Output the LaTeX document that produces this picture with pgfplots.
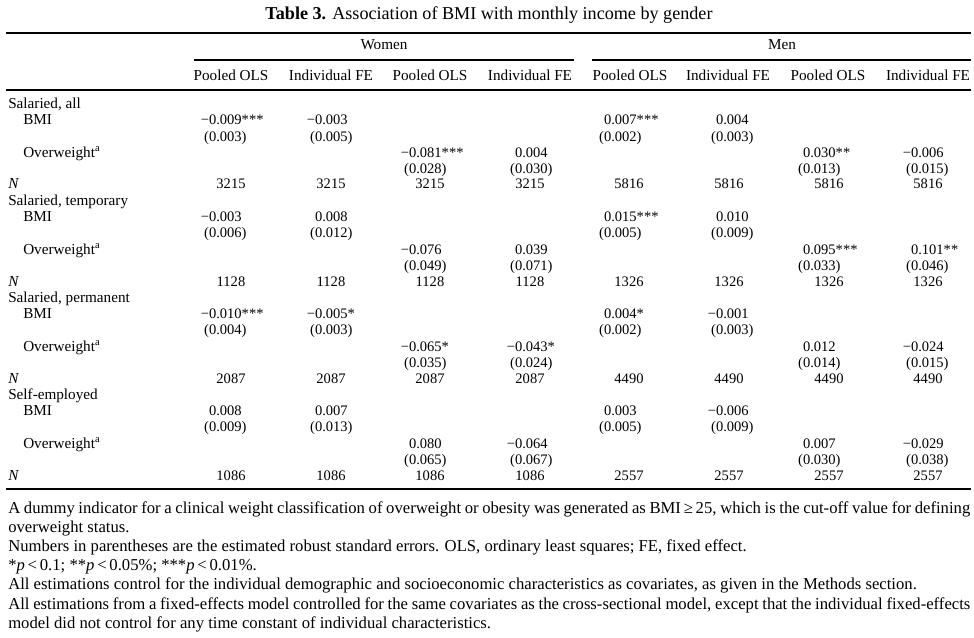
\documentclass[border=0pt]{standalone}
\usepackage{fontspec}
\setmainfont{Liberation Serif}
\usepackage{pgfplots}
\pgfplotsset{compat=1.18}
\newcommand{\fs}{\fontsize{10.9}{13}\selectfont}
\newcommand{\ft}{\fontsize{11.4}{13}\selectfont}
% coefficient cell: #1 = x of digit end, #2 = row centre y, #3 coef, #4 stars, #5 se
\newcommand{\cell}[5]{%
  \node[anchor=base east, inner sep=0pt, font=\fs] at (axis cs:#1,#2+5) {#3\rlap{#4}};
  \node[anchor=base east, inner sep=0pt, font=\fs] at (axis cs:#1,#2+21.2) {(#5\rlap{)}};}
\newcommand{\nval}[3]{\node[anchor=base, inner sep=0pt, font=\fs] at (axis cs:#1,#2+5) {#3};}
\newcommand{\hd}[3]{\node[anchor=base, inner sep=0pt, font=\ft] at (axis cs:#1,#2+5) {#3};}
\newcommand{\lab}[3]{\node[anchor=base west, inner sep=0pt, font=\ft] at (axis cs:#1,#2+5) {#3};}
\begin{document}
\begin{tikzpicture}
\begin{axis}[scale only axis, width=730.5pt, height=478.5pt,
  xmin=0, xmax=974, ymin=0, ymax=638, y dir=reverse, hide axis, clip=false]
\path (axis cs:0,0) rectangle (axis cs:974,638);
% title
\node[anchor=base, inner sep=0pt] at (axis cs:489,20) {\fontsize{13.6}{15}\selectfont\textbf{Table 3.} Association of BMI with monthly income by gender};
% rules
\draw[line width=1.3pt] (axis cs:6,33) -- (axis cs:971,33);
\draw[line width=0.8pt] (axis cs:194,60) -- (axis cs:574,60);
\draw[line width=0.8pt] (axis cs:592,60) -- (axis cs:971,60);
\draw[line width=1.3pt] (axis cs:6,90) -- (axis cs:971,90);
\draw[line width=1.3pt] (axis cs:6,489) -- (axis cs:971,489);
% group headers
\hd{384}{45}{Women}
\hd{782}{45}{Men}
% column headers
\hd{231}{76}{Pooled OLS}
\hd{331}{76}{Individual FE}
\hd{430}{76}{Pooled OLS}
\hd{530}{76}{Individual FE}
\hd{630}{76}{Pooled OLS}
\hd{728}{76}{Individual FE}
\hd{828}{76}{Pooled OLS}
\hd{928}{76}{Individual FE}
% ---------------- Salaried, all
\lab{8}{104}{Salaried, all}
\lab{23}{120}{BMI}
\lab{23}{152}{Overweight\textsuperscript{a}}
\lab{8}{184}{\textit{N}}
\cell{242}{120}{−0.009}{***}{0.003}
\cell{348}{120}{−0.003}{}{0.005}
\cell{637}{120}{0.007}{***}{0.002}
\cell{749}{120}{0.004}{}{0.003}
\cell{442}{152}{−0.081}{***}{0.028}
\cell{548}{152}{0.004}{}{0.030}
\cell{836}{152}{0.030}{**}{0.013}
\cell{944}{152}{−0.006}{}{0.015}
\nval{231}{184}{3215}\nval{331}{184}{3215}\nval{430}{184}{3215}\nval{530}{184}{3215}
\nval{629}{184}{5816}\nval{729}{184}{5816}\nval{829}{184}{5816}\nval{928}{184}{5816}
% ---------------- Salaried, temporary
\lab{8}{200}{Salaried, temporary}
\lab{23}{216}{BMI}
\lab{23}{249}{Overweight\textsuperscript{a}}
\lab{8}{281}{\textit{N}}
\cell{242}{216}{−0.003}{}{0.006}
\cell{348}{216}{0.008}{}{0.012}
\cell{637}{216}{0.015}{***}{0.005}
\cell{749}{216}{0.010}{}{0.009}
\cell{442}{249}{−0.076}{}{0.049}
\cell{548}{249}{0.039}{}{0.071}
\cell{836}{249}{0.095}{***}{0.033}
\cell{944}{249}{0.101}{**}{0.046}
\nval{231}{281}{1128}\nval{331}{281}{1128}\nval{430}{281}{1128}\nval{530}{281}{1128}
\nval{629}{281}{1326}\nval{729}{281}{1326}\nval{829}{281}{1326}\nval{928}{281}{1326}
% ---------------- Salaried, permanent
\lab{8}{297}{Salaried, permanent}
\lab{23}{313}{BMI}
\lab{23}{346}{Overweight\textsuperscript{a}}
\lab{8}{378}{\textit{N}}
\cell{242}{313}{−0.010}{***}{0.004}
\cell{348}{313}{−0.005}{*}{0.003}
\cell{637}{313}{0.004}{*}{0.002}
\cell{749}{313}{−0.001}{}{0.003}
\cell{442}{346}{−0.065}{*}{0.035}
\cell{548}{346}{−0.043}{*}{0.024}
\cell{836}{346}{0.012}{}{0.014}
\cell{944}{346}{−0.024}{}{0.015}
\nval{231}{378}{2087}\nval{331}{378}{2087}\nval{430}{378}{2087}\nval{530}{378}{2087}
\nval{629}{378}{4490}\nval{729}{378}{4490}\nval{829}{378}{4490}\nval{928}{378}{4490}
% ---------------- Self-employed
\lab{8}{394}{Self-employed}
\lab{23}{410}{BMI}
\lab{23}{443}{Overweight\textsuperscript{a}}
\lab{8}{475}{\textit{N}}
\cell{242}{410}{0.008}{}{0.009}
\cell{348}{410}{0.007}{}{0.013}
\cell{637}{410}{0.003}{}{0.005}
\cell{749}{410}{−0.006}{}{0.009}
\cell{442}{443}{0.080}{}{0.065}
\cell{548}{443}{−0.064}{}{0.067}
\cell{836}{443}{0.007}{}{0.030}
\cell{944}{443}{−0.029}{}{0.038}
\nval{231}{475}{1086}\nval{331}{475}{1086}\nval{430}{475}{1086}\nval{530}{475}{1086}
\nval{629}{475}{2557}\nval{729}{475}{2557}\nval{829}{475}{2557}\nval{928}{475}{2557}
% ---------------- notes
\node[anchor=north west, inner sep=0pt, text width=721.5pt, align=justify,
  font=\fontsize{12.5}{14.4}\selectfont] at (axis cs:8,501) {%
A dummy indicator for a clinical weight classification of overweight or obesity was generated as BMI\,≥\,25, which is the cut-off value for defining overweight status.\par
Numbers in parentheses are the estimated robust standard errors. OLS, ordinary least squares; FE, fixed effect.\par
*\textit{p}\,<\,0.1; **\textit{p}\,<\,0.05\%; ***\textit{p}\,<\,0.01\%.\par
All estimations control for the individual demographic and socioeconomic characteristics as covariates, as given in the Methods section.\par
All estimations from a fixed-effects model controlled for the same covariates as the cross-sectional model, except that the individual fixed-effects model did not control for any time constant of individual characteristics.};
\end{axis}
\end{tikzpicture}
\end{document}
